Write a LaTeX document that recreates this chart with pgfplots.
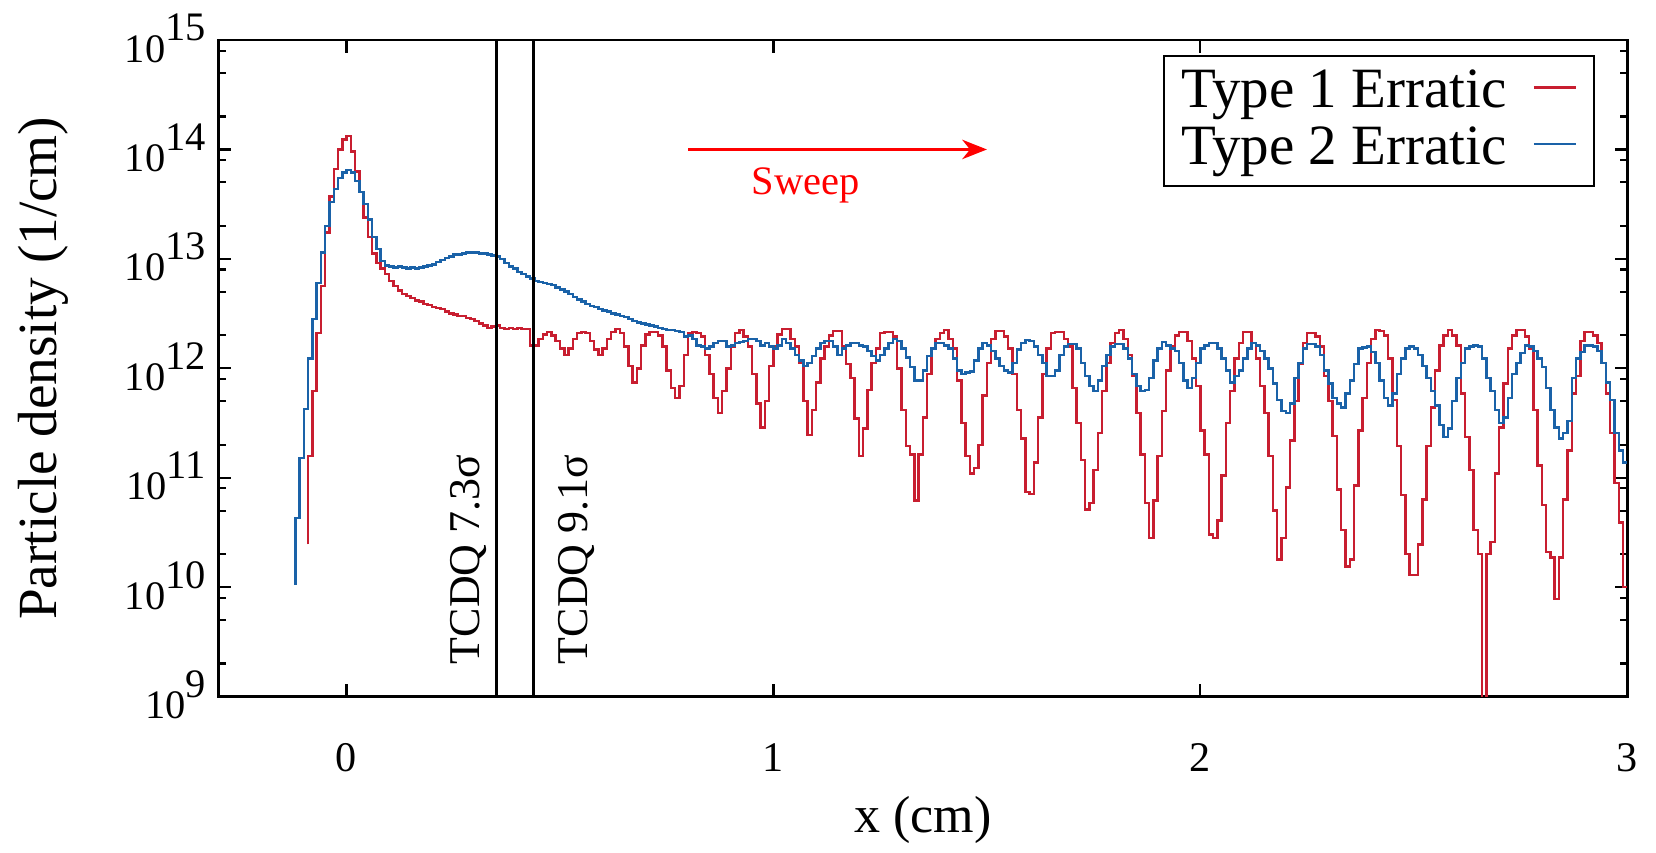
\documentclass[border=0pt]{standalone}
\usepackage{fontspec}
\setmainfont{Liberation Serif}
\usepackage{pgfplots}
\usepackage{pgfplotstable}
\pgfplotsset{compat=1.18}
\usetikzlibrary{arrows.meta}
\definecolor{typeone}{RGB}{200,30,48}
\definecolor{typetwo}{RGB}{26,98,168}
\newcommand{\ep}[1]{10\raisebox{6pt}{#1}}

% x = right edge of each 0.01 cm bin, r / b = log10 of the density (1/cm)
\pgfplotstableread{
x r b
-0.12 10.39 10.02
-0.11 10.39 10.63
-0.10 10.39 11.18
-0.09 10.39 11.63
-0.08 11.20 12.09
-0.07 11.79 12.45
-0.06 12.32 12.78
-0.05 12.75 13.06
-0.04 13.24 13.30
-0.03 13.57 13.52
-0.02 13.82 13.64
-0.01 14.00 13.74
0.00 14.09 13.79
0.01 14.125 13.81
0.02 13.98 13.79
0.03 13.80 13.71
0.04 13.61 13.61
0.05 13.38 13.50
0.06 13.20 13.36
0.07 13.05 13.20
0.08 12.96 13.09
0.09 12.91 12.98
0.10 12.86 12.94
0.11 12.80 12.93
0.12 12.75 12.92
0.13 12.71 12.93
0.14 12.68 12.92
0.15 12.66 12.91
0.16 12.64 12.92
0.17 12.62 12.91
0.18 12.61 12.92
0.19 12.59 12.93
0.20 12.58 12.94
0.21 12.56 12.95
0.22 12.55 12.97
0.23 12.54 12.99
0.24 12.52 13.01
0.25 12.50 13.02
0.26 12.49 13.04
0.27 12.48 13.04
0.28 12.48 13.05
0.29 12.46 13.06
0.30 12.45 13.06
0.31 12.43 13.06
0.32 12.41 13.05
0.33 12.39 13.05
0.34 12.37 13.04
0.35 12.38 13.03
0.36 12.39 13.02
0.37 12.37 13.00
0.38 12.36 12.96
0.39 12.37 12.93
0.40 12.36 12.91
0.41 12.37 12.88
0.42 12.36 12.86
0.43 12.36 12.84
0.44 12.21 12.82
0.45 12.21 12.80
0.46 12.27 12.79
0.47 12.31 12.78
0.48 12.33 12.77
0.49 12.30 12.76
0.50 12.25 12.74
0.51 12.18 12.72
0.52 12.12 12.70
0.53 12.18 12.68
0.54 12.27 12.65
0.55 12.32 12.63
0.56 12.33 12.61
0.57 12.32 12.59
0.58 12.25 12.57
0.59 12.17 12.56
0.60 12.12 12.54
0.61 12.18 12.53
0.62 12.27 12.52
0.63 12.33 12.50
0.64 12.36 12.49
0.65 12.32 12.48
0.66 12.20 12.47
0.67 12.02 12.45
0.68 11.87 12.43
0.69 12.00 12.42
0.70 12.21 12.41
0.71 12.31 12.40
0.72 12.33 12.39
0.73 12.33 12.38
0.74 12.30 12.37
0.75 12.20 12.36
0.76 11.98 12.35
0.77 11.82 12.35
0.78 11.73 12.34
0.79 11.84 12.33
0.80 12.12 12.29
0.81 12.32 12.30
0.82 12.33 12.27
0.83 12.32 12.21
0.84 12.29 12.20
0.85 12.12 12.18
0.86 11.95 12.20
0.87 11.73 12.23
0.88 11.59 12.25
0.89 11.79 12.25
0.90 12.00 12.20
0.91 12.20 12.21
0.92 12.32 12.23
0.93 12.35 12.24
0.94 12.29 12.25
0.95 12.20 12.27
0.96 11.95 12.27
0.97 11.68 12.25
0.98 11.46 12.21
0.99 11.70 12.23
1.00 12.02 12.20
1.01 12.20 12.18
1.02 12.31 12.21
1.03 12.36 12.27
1.04 12.36 12.23
1.05 12.27 12.18
1.06 12.20 12.12
1.07 12.05 12.07
1.08 11.70 12.02
1.09 11.39 12.05
1.10 11.62 12.11
1.11 11.87 12.18
1.12 12.09 12.23
1.13 12.20 12.25
1.14 12.30 12.25
1.15 12.34 12.20
1.16 12.34 12.12
1.17 12.20 12.18
1.18 12.04 12.21
1.19 11.91 12.23
1.20 11.54 12.23
1.21 11.20 12.21
1.22 11.45 12.20
1.23 11.80 12.16
1.24 12.05 12.11
1.25 12.18 12.07
1.26 12.32 12.12
1.27 12.33 12.18
1.28 12.33 12.23
1.29 12.29 12.27
1.30 12.00 12.25
1.31 11.62 12.18
1.32 11.29 12.10
1.33 11.21 12.01
1.34 10.79 11.89
1.35 11.21 11.89
1.36 11.55 11.98
1.37 11.95 12.11
1.38 12.18 12.18
1.39 12.27 12.23
1.40 12.32 12.23
1.41 12.35 12.21
1.42 12.27 12.18
1.43 12.18 12.09
1.44 11.89 11.98
1.45 11.50 11.95
1.46 11.20 11.96
1.47 11.04 11.97
1.48 11.09 12.07
1.49 11.30 12.18
1.50 11.75 12.23
1.51 12.05 12.21
1.52 12.27 12.16
1.53 12.34 12.09
1.54 12.34 12.02
1.55 12.29 11.98
1.56 12.18 11.96
1.57 11.95 12.05
1.58 11.62 12.17
1.59 11.36 12.23
1.60 10.87 12.26
1.61 10.85 12.25
1.62 11.14 12.20
1.63 11.55 12.12
1.64 11.95 12.05
1.65 12.18 11.93
1.66 12.32 11.93
1.67 12.33 11.98
1.68 12.33 12.12
1.69 12.27 12.20
1.70 12.20 12.22
1.71 11.82 12.22
1.72 11.50 12.18
1.73 11.16 12.05
1.74 10.71 11.93
1.75 10.77 11.84
1.76 11.07 11.79
1.77 11.41 11.89
1.78 11.79 12.02
1.79 12.05 12.12
1.80 12.23 12.20
1.81 12.32 12.22
1.82 12.35 12.22
1.83 12.27 12.18
1.84 12.12 12.09
1.85 11.93 11.95
1.86 11.59 11.84
1.87 11.21 11.79
1.88 10.77 11.80
1.89 10.45 11.91
1.90 10.79 12.07
1.91 11.20 12.18
1.92 11.61 12.24
1.93 11.98 12.21
1.94 12.20 12.18
1.95 12.30 12.16
1.96 12.33 12.05
1.97 12.33 11.89
1.98 12.25 11.82
1.99 12.09 11.91
2.00 11.84 12.05
2.01 11.43 12.18
2.02 11.21 12.21
2.03 10.48 12.23
2.04 10.45 12.23
2.05 10.61 12.18
2.06 11.02 12.09
2.07 11.50 11.98
2.08 11.79 11.87
2.09 12.09 11.93
2.10 12.23 11.98
2.11 12.33 12.09
2.12 12.33 12.18
2.13 12.23 12.23
2.14 12.09 12.21
2.15 11.84 12.16
2.16 11.59 12.09
2.17 11.20 12.00
2.18 10.70 11.86
2.19 10.25 11.71
2.20 10.45 11.61
2.21 10.91 11.59
2.22 11.34 11.68
2.23 11.70 11.91
2.24 12.04 12.05
2.25 12.23 12.18
2.26 12.32 12.22
2.27 12.32 12.22
2.28 12.29 12.20
2.29 12.20 12.12
2.30 11.93 11.98
2.31 11.70 11.86
2.32 11.38 11.73
2.33 10.89 11.68
2.34 10.52 11.64
2.35 10.19 11.77
2.36 10.25 11.89
2.37 10.93 12.04
2.38 11.43 12.18
2.39 11.73 12.19
2.40 12.05 12.20
2.41 12.27 12.15
2.42 12.35 12.05
2.43 12.34 11.89
2.44 12.30 11.73
2.45 12.09 11.66
2.46 11.71 11.77
2.47 11.29 11.95
2.48 10.84 12.09
2.49 10.30 12.18
2.50 10.11 12.20
2.51 10.11 12.18
2.52 10.39 12.12
2.53 10.80 12.02
2.54 11.29 11.91
2.55 11.64 11.79
2.56 11.98 11.66
2.57 12.21 11.48
2.58 12.30 11.37
2.59 12.35 11.45
2.60 12.30 11.70
2.61 12.21 11.91
2.62 11.77 12.05
2.63 11.37 12.18
2.64 11.07 12.20
2.65 10.52 12.21
2.66 10.30 12.20
2.67 8.00 12.09
2.68 10.30 11.91
2.69 10.41 11.79
2.70 11.04 11.62
2.71 11.46 11.50
2.72 11.86 11.55
2.73 12.18 11.73
2.74 12.30 11.95
2.75 12.35 12.05
2.76 12.35 12.14
2.77 12.29 12.21
2.78 12.18 12.20
2.79 11.62 12.16
2.80 11.11 12.09
2.81 10.75 12.01
2.82 10.32 11.82
2.83 10.27 11.62
2.84 9.89 11.46
2.85 10.27 11.36
2.86 10.80 11.41
2.87 11.25 11.52
2.88 11.77 11.91
2.89 11.93 12.09
2.90 12.25 12.15
2.91 12.33 12.21
2.92 12.33 12.21
2.93 12.30 12.20
2.94 12.23 12.16
2.95 12.05 12.05
2.96 11.77 11.87
2.97 11.41 11.71
2.98 10.95 11.41
2.99 10.59 11.25
3.00 10.00 11.14
}\density

\begin{document}
\fontsize{15.5}{18}\selectfont
\begin{tikzpicture}
\begin{axis}[
  scale only axis, width=400.5pt, height=186.6pt,
  xmin=-0.3, xmax=3, ymin=1e9, ymax=1e15, ymode=log,
  xtick={0,1,2,3}, minor xtick={},
  ytick={1e9,1e10,1e11,1e12,1e13,1e14,1e15},
  yticklabels={\ep{9},\ep{10},\ep{11},\ep{12},\ep{13},\ep{14},\ep{15}},
  minor ytick={2e9,5e9,8e9,2e10,5e10,8e10,2e11,5e11,8e11,2e12,5e12,8e12,2e13,5e13,8e13,2e14,5e14,8e14},
  tick align=inside, major tick length=3.6pt, minor tick length=2pt,
  every tick/.style={black, line width=0.6pt},
  axis line style={line width=0.7pt},
  /pgf/number format/assume math mode=true,
  xticklabel style={font=\fontsize{12}{14}\selectfont, anchor=base, yshift=-21.3pt},
  yticklabel style={font=\fontsize{11.5}{13}\selectfont, anchor=east, inner sep=0pt, xshift=-3.4pt, yshift=0.5pt},
  xlabel={x (cm)}, ylabel={Particle density (1/cm)},
  every axis x label/.style={at={(rel axis cs:0.5,0)}, yshift=-35.2pt, anchor=center, inner sep=2.5pt, font=\fontsize{14.8}{17}\selectfont},
  every axis y label/.style={at={(rel axis cs:0,0.5)}, xshift=-49.8pt, rotate=90, anchor=center, font=\fontsize{15.7}{18}\selectfont},
  legend style={at={(rel axis cs:1,1)}, anchor=north east, xshift=-9.1pt, yshift=-4.2pt,
    draw=black, line width=0.6pt, fill=white, inner xsep=4.8pt, inner ysep=4pt,
    row sep=3pt, column sep=7.5pt,
    font=\fontsize{16.2}{16.2}\selectfont, nodes={inner sep=0pt}},
  legend plot pos=right, legend cell align=left,
  legend image code/.code={\draw[#1, line width=0.7pt] (0pt,0.1em) -- (12pt,0.1em);},
]
\addplot[typeone, line width=0.7pt, const plot mark right, restrict x to domain=-0.095:3.01]
  table[x=x, y expr=10^\thisrow{r}] {\density};
\addlegendentry{Type 1 Erratic}
\addplot[typetwo, line width=0.7pt, const plot mark right]
  table[x=x, y expr=10^\thisrow{b}] {\density};
\addlegendentry{Type 2 Erratic}

% TCDQ jaw positions
\addplot[forget plot, black, line width=0.8pt] coordinates {(0.352,1e9) (0.352,1e15)};
\addplot[forget plot, black, line width=0.8pt] coordinates {(0.438,1e9) (0.438,1e15)};
\node[rotate=90, anchor=south west, inner sep=0pt, font=\fontsize{12.5}{14}\selectfont]
  at ([xshift=-2.6pt]axis cs:0.352,1.95e9) {TCDQ 7.3σ};
\node[rotate=90, anchor=north west, inner sep=0pt, font=\fontsize{12.5}{14}\selectfont]
  at ([xshift=6.9pt]axis cs:0.438,1.95e9) {TCDQ 9.1σ};

% sweep direction
\addplot[forget plot, red, line width=0.9pt, -{Stealth[length=7pt, width=5.5pt, inset=2.2pt]}]
  coordinates {(0.8,1e14) (1.5,1e14)};
\node[red, font=\fontsize{11.5}{13}\selectfont] at (axis cs:1.076,4.7e13) {Sweep};
\end{axis}
% keep the blank strip above the frame that the reference has
\path ([yshift=11.4pt]current axis.north);
\end{tikzpicture}
\end{document}
